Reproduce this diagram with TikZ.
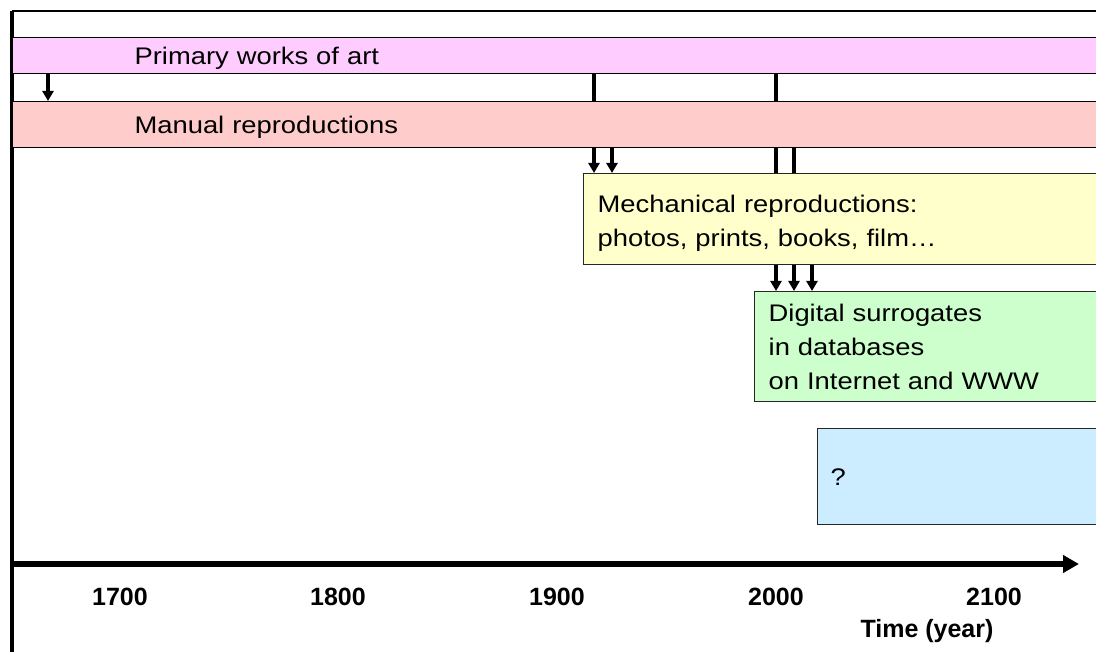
\documentclass[tikz,border=0pt]{standalone}
\usepackage{fontspec}
\setmainfont{Liberation Sans}
\newfontfamily\widesans[FakeStretch=1.14]{Liberation Sans}
\usetikzlibrary{arrows.meta,backgrounds}

\definecolor{primaryfill}{HTML}{FFCCFF}
\definecolor{manualfill}{HTML}{FFCCCC}
\definecolor{mechfill}{HTML}{FFFFCC}
\definecolor{digitalfill}{HTML}{CCFFCC}
\definecolor{futurefill}{HTML}{CCECFF}

\begin{document}
\begin{tikzpicture}[x=1pt,y=-1pt,
  bodytext/.style={font=\widesans\fontsize{24}{34}\selectfont},
  band/.style={bodytext, draw=black, line width=1.2pt, anchor=north west,
    text width=1200pt, inner xsep=122pt, inner ysep=0pt, align=left,
    text height=18pt, text depth=0pt},
  stage/.style={bodytext, draw=black!85, line width=1.4pt, anchor=north west,
    text width=700pt, inner xsep=14pt, inner ysep=0pt, align=left},
  conn/.style={line width=3.2pt, -{Triangle[width=11pt,length=10pt]}},
  yearlabel/.style={font=\bfseries\fontsize{25}{30}\selectfont, anchor=base, inner sep=0pt},
  timeaxis/.style={line width=5.5pt, -{Triangle[width=17pt,length=16pt]}}
]
\useasboundingbox (0,0) rectangle (1096,652);
\clip (0,0) rectangle (1096,652);

% horizontal bands and stage boxes
\node[band, fill=primaryfill, minimum height=36pt] (primary) at (12,37) {Primary works of art};
\node[band, fill=manualfill, minimum height=46pt] (manual) at (12,101) {Manual reproductions};
\node[stage, fill=mechfill, minimum height=91pt] (mech) at (583,173)
  {\rule{0pt}{25pt}Mechanical reproductions:\\photos, prints, books, film…};
\node[stage, fill=digitalfill, minimum height=110pt] (digital) at (754,291)
  {Digital surrogates\\in databases\\on Internet and WWW};
\node[stage, fill=futurefill, minimum height=96pt, inner xsep=13pt] (future) at (817,428) {?};

% x positions of the connectors
\coordinate (x48) at (48,0);
\coordinate (x594) at (594,0);
\coordinate (x612) at (612,0);
\coordinate (x776) at (776,0);
\coordinate (x794) at (794,0);
\coordinate (x812) at (812,0);

\begin{scope}[on background layer]
  % frame
  \draw[line width=2pt] (12,11) -- (1110,11);
  \draw[line width=3.5pt] (12,11) -- (12,660);
  % descent of each stage, passing behind the later boxes
  \draw[conn] (primary.south -| x48) -- (manual.north -| x48);
  \draw[conn] (primary.south -| x594) -- (mech.north -| x594);
  \draw[conn] (primary.south -| x776) -- (digital.north -| x776);
  \draw[conn] (manual.south -| x612) -- (mech.north -| x612);
  \draw[conn] (manual.south -| x794) -- (digital.north -| x794);
  \draw[conn] (mech.south -| x812) -- (digital.north -| x812);
\end{scope}

% time axis
\coordinate (axstart) at (12,564);
\coordinate (axend) at (1079,564);
\draw[timeaxis] (axstart) -- (axend);
\node[yearlabel] (y1700) at (120,605) {1700};
\node[yearlabel] (y1800) at (338,605) {1800};
\node[yearlabel] (y1900) at (557,605) {1900};
\node[yearlabel] (y2000) at (776,605) {2000};
\node[yearlabel] (y2100) at (994,605) {2100};
\node[yearlabel] (timelabel) at (927,637) {Time (year)};
\end{tikzpicture}
\end{document}
